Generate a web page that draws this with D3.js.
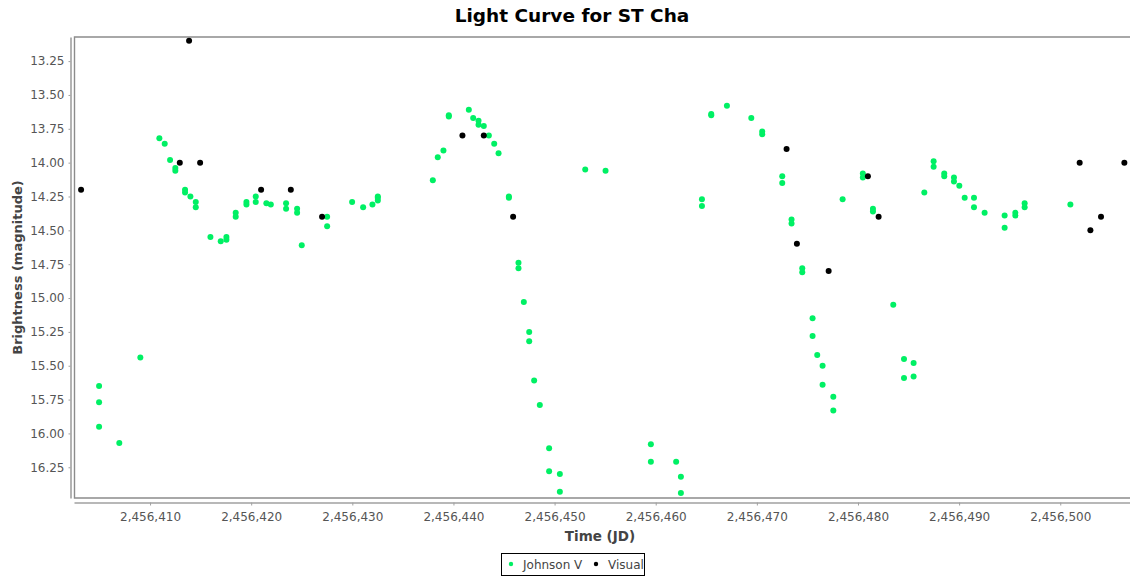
<!DOCTYPE html>
<html lang="en">
  <head>
    <meta charset="UTF-8" />
    <title>Light Curve for ST Cha</title>
    <style>
      html, body { margin: 0; background: #fff; overflow: hidden; }
      svg { display: block; font-family: "DejaVu Sans", sans-serif; }
    </style>
  </head>
  <body>
    <div id="chart">
      <svg width="1130" height="577"></svg>
    </div>
    <script src="https://d3js.org/d3.v7.min.js"></script>
    <script>
      // Johnson V observations (JD, magnitude)
      var johnsonJD = [
        2456404.96, 2456404.96, 2456404.96, 2456406.96, 2456409.04, 2456410.92, 2456411.45, 2456411.98,
        2456412.50, 2456412.50, 2456413.46, 2456413.46, 2456413.99, 2456414.52, 2456414.52, 2456415.97,
        2456416.99, 2456417.55, 2456417.55, 2456418.47, 2456418.47, 2456419.53, 2456419.53, 2456420.45,
        2456420.45, 2456421.50, 2456421.94, 2456423.45, 2456423.45, 2456424.54, 2456424.54, 2456425.00,
        2456427.51, 2456427.51, 2456429.98, 2456431.07, 2456431.99, 2456432.52, 2456432.52, 2456432.52,
        2456437.96, 2456438.45, 2456439.01, 2456439.54, 2456439.54, 2456441.52, 2456441.95, 2456442.48,
        2456442.48, 2456443.00, 2456443.50, 2456444.03, 2456444.46, 2456445.48, 2456445.48, 2456446.43,
        2456446.43, 2456446.96, 2456447.49, 2456447.49, 2456447.98, 2456448.54, 2456449.46, 2456449.46,
        2456450.52, 2456450.52, 2456453.03, 2456455.04, 2456459.52, 2456459.52, 2456462.02, 2456462.49,
        2456462.49, 2456464.57, 2456464.57, 2456465.49, 2456465.49, 2456467.04, 2456469.45, 2456470.53,
        2456470.53, 2456472.51, 2456472.51, 2456473.43, 2456473.43, 2456474.49, 2456474.49, 2456475.51,
        2456475.51, 2456475.97, 2456476.50, 2456476.50, 2456477.56, 2456477.56, 2456478.48, 2456480.48,
        2456480.48, 2456481.48, 2456481.48, 2456483.49, 2456484.55, 2456484.55, 2456485.50, 2456485.50,
        2456486.56, 2456487.48, 2456487.48, 2456488.53, 2456488.53, 2456489.49, 2456489.49, 2456490.02,
        2456490.55, 2456491.47, 2456491.47, 2456492.52, 2456494.50, 2456494.50, 2456495.56, 2456495.56,
        2456496.48, 2456496.48, 2456501.00
      ];
      var johnsonMag = [
        15.65, 15.77, 15.95, 16.07, 15.44, 13.82, 13.86, 13.98,
        14.04, 14.06, 14.20, 14.22, 14.25, 14.29, 14.33, 14.55,
        14.58, 14.55, 14.57, 14.37, 14.40, 14.29, 14.31, 14.25,
        14.29, 14.30, 14.31, 14.30, 14.34, 14.34, 14.37, 14.61,
        14.40, 14.47, 14.29, 14.33, 14.31, 14.25, 14.26, 14.28,
        14.13, 13.96, 13.91, 13.65, 13.66, 13.61, 13.67, 13.69,
        13.72, 13.73, 13.80, 13.86, 13.93, 14.25, 14.26, 14.74,
        14.78, 15.03, 15.25, 15.32, 15.61, 15.79, 16.11, 16.28,
        16.30, 16.43, 14.05, 14.06, 16.08, 16.21, 16.21, 16.32,
        16.44, 14.27, 14.32, 13.64, 13.65, 13.58, 13.67, 13.77,
        13.79, 14.10, 14.15, 14.42, 14.45, 14.78, 14.81, 15.15,
        15.28, 15.42, 15.50, 15.64, 15.73, 15.83, 14.27, 14.08,
        14.11, 14.34, 14.36, 15.05, 15.45, 15.59, 15.48, 15.58,
        14.22, 13.99, 14.03, 14.08, 14.10, 14.11, 14.14, 14.17,
        14.26, 14.26, 14.33, 14.37, 14.39, 14.48, 14.37, 14.39,
        14.30, 14.33, 14.31
      ];

      // Visual observations (JD, magnitude)
      var visualJD = [
        2456403.18, 2456412.94, 2456413.86, 2456414.95, 2456420.98, 2456423.92, 2456427.01, 2456440.89,
        2456443.00, 2456445.90, 2456472.94, 2456473.96, 2456477.10, 2456480.98, 2456482.04, 2456501.92,
        2456502.98, 2456504.03, 2456506.34
      ];
      var visualMag = [
        14.2, 14.0, 13.1, 14.0, 14.2, 14.2, 14.4, 13.8,
        13.8, 14.4, 13.9, 14.6, 14.8, 14.1, 14.4, 14.0,
        14.5, 14.4, 14.0
      ];

      var xTicks = [2456410, 2456420, 2456430, 2456440, 2456450, 2456460, 2456470, 2456480, 2456490, 2456500];
      var yTicks = [13.25, 13.5, 13.75, 14.0, 14.25, 14.5, 14.75, 15.0, 15.25, 15.5, 15.75, 16.0, 16.25];

      var seriesNames = ["Johnson V", "Visual"];
      var seriesColors = ["#00f064", "#000000"];

      var svg = d3.select("#chart>svg");
      // the plot runs a little past the right edge of the picture
      var margin = { top: 37, right: -6, bottom: 79, left: 74 };
      var width = +svg.attr("width") - margin.left - margin.right;
      var height = +svg.attr("height") - margin.top - margin.bottom;

      var x = d3.scaleLinear().domain([2456402.48, 2456507.49]).range([0, width]);
      var y = d3.scaleLinear().domain([13.072, 16.477]).range([0, height]);

      var g = svg.append("g")
        .attr("transform", "translate(" + margin.left + "," + margin.top + ")");

      // plot outline (open on the right, where the picture cuts it off)
      g.append("path")
        .attr("d", "M" + (width + 40) + ",0H0.5V" + height + "H" + (width + 40))
        .attr("fill", "none")
        .attr("stroke", "#8c8c8c")
        .attr("stroke-width", 1.4);

      // axes (offset a few pixels from the plot, like the original)
      var yAxis = g.append("g")
        .attr("transform", "translate(-3.5,0)")
        .call(d3.axisLeft(y).tickValues(yTicks).tickFormat(d3.format(".2f")).tickSize(2).tickSizeOuter(0).tickPadding(4));
      var xAxis = g.append("g")
        .attr("transform", "translate(0," + (height + 4.5) + ")")
        .call(d3.axisBottom(x).tickValues(xTicks).tickFormat(d3.format(",d")).tickSize(3).tickSizeOuter(0).tickPadding(4));

      [yAxis, xAxis].forEach(function (a) {
        a.select(".domain").attr("stroke", "#a0a0a0").attr("stroke-width", 1.6);
        a.selectAll(".tick line").attr("stroke", "#a0a0a0");
        a.selectAll(".tick text")
          .attr("fill", "#555")
          .style("font-family", "DejaVu Sans")
          .style("font-size", "12px");
      });
      xAxis.selectAll(".tick text").attr("dy", "0.95em");

      // points
      var johnson = johnsonJD.map(function (d, i) { return { jd: d, mag: johnsonMag[i] }; });
      var visual = visualJD.map(function (d, i) { return { jd: d, mag: visualMag[i] }; });

      g.append("g").selectAll("circle")
        .data(johnson).enter().append("circle")
        .attr("cx", function (d) { return x(d.jd); })
        .attr("cy", function (d) { return y(d.mag); })
        .attr("r", 3)
        .attr("fill", seriesColors[0]);

      g.append("g").selectAll("circle")
        .data(visual).enter().append("circle")
        .attr("cx", function (d) { return x(d.jd); })
        .attr("cy", function (d) { return y(d.mag); })
        .attr("r", 3)
        .attr("fill", seriesColors[1]);

      // titles
      svg.append("text")
        .attr("x", 572).attr("y", 22)
        .attr("text-anchor", "middle")
        .style("font-size", "18.5px").style("font-weight", "bold")
        .attr("fill", "#000")
        .text("Light Curve for ST Cha");

      svg.append("text")
        .attr("x", 600).attr("y", 541)
        .attr("text-anchor", "middle")
        .style("font-size", "13.5px").style("font-weight", "bold")
        .attr("fill", "#444")
        .text("Time (JD)");

      svg.append("text")
        .attr("transform", "translate(22," + (margin.top + height / 2) + ") rotate(-90)")
        .attr("text-anchor", "middle")
        .style("font-size", "13px").style("font-weight", "bold")
        .attr("fill", "#444")
        .text("Brightness (magnitude)");

      // legend
      var legend = svg.append("g").attr("transform", "translate(501,553)");
      legend.append("rect")
        .attr("x", 0.5).attr("y", 0.5)
        .attr("width", 143).attr("height", 22)
        .attr("fill", "#fff").attr("stroke", "#000");
      var legendX = [10, 95];
      seriesNames.forEach(function (name, i) {
        legend.append("circle")
          .attr("cx", legendX[i]).attr("cy", 11)
          .attr("r", 2.2).attr("fill", seriesColors[i]);
        legend.append("text")
          .attr("x", legendX[i] + 12).attr("y", 15.5)
          .style("font-size", "12px").attr("fill", "#444")
          .text(name);
      });
    </script>
  </body>
</html>
